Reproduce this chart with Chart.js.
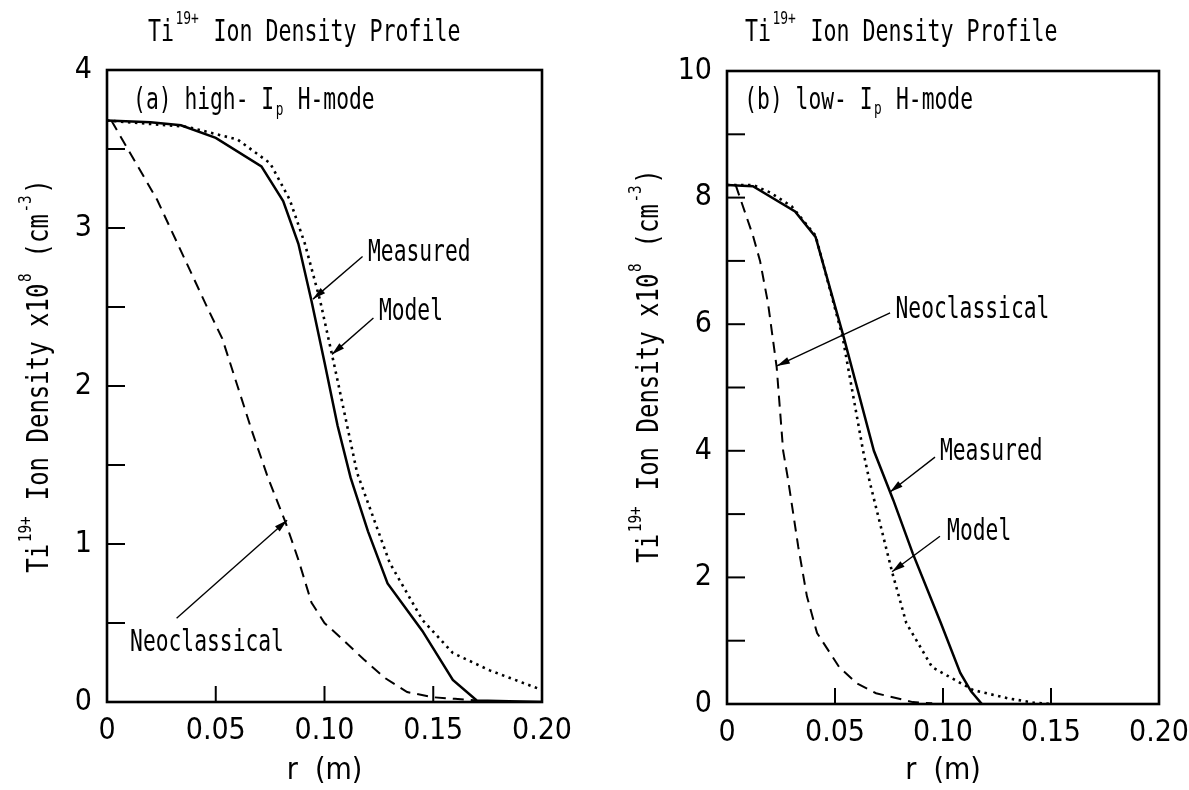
<!DOCTYPE html>
<html>
<head>
<meta charset="utf-8">
<title>Ti19+ Ion Density Profile</title>
<script src="https://cdn.jsdelivr.net/npm/chart.js@4.4.0/dist/chart.umd.min.js"></script>
<style>
    body { margin: 0; background: #fff; }
    #wrap { position: relative; width: 1189px; height: 790px; }
    #chartA { position: absolute; left: 0; top: 0; }
    #chartB { position: absolute; left: 600px; top: 0; }
</style>
</head>
<body>
<div id="wrap">
    <canvas id="chartA" width="600" height="790"></canvas>
    <canvas id="chartB" width="589" height="790"></canvas>
</div>
<script>
// Panel (a): high-Ip H-mode, r in metres, density in 1e8 cm^-3
const rMeasuredA = [0, 0.02, 0.034, 0.05, 0.071, 0.081, 0.088, 0.094, 0.1, 0.106, 0.112, 0.12, 0.129, 0.145, 0.159, 0.17, 0.2];
const nMeasuredA = [3.68, 3.67, 3.65, 3.57, 3.39, 3.17, 2.9, 2.54, 2.15, 1.75, 1.42, 1.08, 0.75, 0.45, 0.14, 0.01, 0.0];
const rModelA = [0, 0.037, 0.06, 0.075, 0.084, 0.091, 0.098, 0.105, 0.115, 0.13, 0.145, 0.159, 0.176, 0.2];
const nModelA = [3.68, 3.64, 3.56, 3.41, 3.18, 2.9, 2.54, 2.1, 1.45, 0.88, 0.52, 0.31, 0.2, 0.076];
const rNeoA = [0.002, 0.023, 0.046, 0.053, 0.06, 0.067, 0.074, 0.082, 0.088, 0.094, 0.1, 0.108, 0.118, 0.128, 0.138, 0.15, 0.16, 0.17];
const nNeoA = [3.68, 3.18, 2.5, 2.3, 2.0, 1.7, 1.42, 1.14, 0.9, 0.63, 0.5, 0.4, 0.27, 0.15, 0.063, 0.03, 0.02, 0.01];

// Panel (b): low-Ip H-mode
const rMeasuredB = [0, 0.012, 0.0315, 0.041, 0.054, 0.068, 0.077, 0.086, 0.099, 0.108, 0.113, 0.118];
const nMeasuredB = [8.2, 8.18, 7.78, 7.38, 5.8, 4.0, 3.22, 2.38, 1.28, 0.49, 0.2, 0.0];
const rModelB = [0, 0.012, 0.02, 0.03, 0.041, 0.0535, 0.063, 0.0662, 0.0764, 0.083, 0.095, 0.114, 0.13, 0.142, 0.15];
const nModelB = [8.2, 8.2, 8.08, 7.86, 7.4, 5.8, 4.0, 3.49, 2.09, 1.28, 0.58, 0.22, 0.09, 0.02, 0.0];
const rNeoB = [0.004, 0.012, 0.0153, 0.019, 0.023, 0.026, 0.0283, 0.033, 0.037, 0.0417, 0.052, 0.06, 0.069, 0.086, 0.095];
const nNeoB = [8.2, 7.4, 7.0, 6.33, 5.32, 4.0, 3.54, 2.48, 1.7, 1.12, 0.58, 0.33, 0.17, 0.03, 0.01];

const xTicks = [0, 0.05, 0.10, 0.15, 0.20];

const FONT = "'Liberation Sans Narrow', 'DejaVu Sans Condensed', 'Liberation Sans', sans-serif";
// lettering-style labels: a mono face squeezed horizontally
const LETTER = "'DejaVu Sans Mono', 'Liberation Mono', monospace";

const titleParts = [['Ti'], ['19+', 'sup'], [' Ion Density Profile']];
const yTitleParts = [['Ti'], ['19+', 'sup'], [' Ion Density x10'], ['8', 'sup'], [' (cm'], ['-3', 'sup'], [')']];

function pts(xs, ys) {
    return xs.map((x, i) => ({ x: x, y: ys[i] }));
}

function textWidth(ctx, parts, size, sx) {
    let w = 0;
    parts.forEach(p => {
        ctx.font = (p[1] ? Math.round(size * 0.6) : size) + 'px ' + LETTER;
        w += ctx.measureText(p[0]).width * sx + (p[1] ? 3 : 0);
    });
    return w;
}

// rich text with superscripts / subscripts, drawn left to right from x
function drawRich(ctx, parts, x, y, size, sx) {
    let px = x;
    parts.forEach(p => {
        let dy = 0, s = size, gap = 0;
        if (p[1] === 'sup') { s = Math.round(size * 0.6); dy = -size * 0.45; gap = 3; }
        if (p[1] === 'sub') { s = Math.round(size * 0.6); dy = size * 0.28; gap = 3; }
        ctx.font = s + 'px ' + LETTER;
        ctx.save();
        ctx.translate(px + gap / 2, y + dy);
        ctx.scale(sx, 1);
        ctx.fillText(p[0], 0, 0);
        ctx.restore();
        px += ctx.measureText(p[0]).width * sx + gap;
    });
}

// inward tick marks and the box frame
const frameTicks = {
    id: 'frameTicks',
    afterDraw(chart) {
        const { ctx, chartArea: a, scales } = chart;
        const x = scales.x, y = scales.y;
        ctx.save();
        ctx.strokeStyle = '#000';
        ctx.lineWidth = 2;
        y.ticks.forEach(t => {
            if (t.value <= y.min || t.value >= y.max) return;
            const py = y.getPixelForValue(t.value);
            ctx.beginPath();
            ctx.moveTo(a.left, py);
            ctx.lineTo(a.left + 18, py);
            ctx.stroke();
        });
        x.ticks.forEach(t => {
            if (t.value <= x.min || t.value >= x.max) return;
            const px = x.getPixelForValue(t.value);
            ctx.beginPath();
            ctx.moveTo(px, a.bottom);
            ctx.lineTo(px, a.bottom - 16);
            ctx.stroke();
        });
        ctx.lineWidth = 2.6;
        ctx.strokeRect(a.left, a.top, a.right - a.left, a.bottom - a.top);
        ctx.restore();
    }
};

function drawArrow(ctx, x0, y0, x1, y1) {
    ctx.beginPath();
    ctx.moveTo(x0, y0);
    ctx.lineTo(x1, y1);
    ctx.stroke();
    const ang = Math.atan2(y1 - y0, x1 - x0);
    const L = 13, W = 3.5;
    ctx.beginPath();
    ctx.moveTo(x1, y1);
    ctx.lineTo(x1 - L * Math.cos(ang) + W * Math.sin(ang), y1 - L * Math.sin(ang) - W * Math.cos(ang));
    ctx.lineTo(x1 - L * Math.cos(ang) - W * Math.sin(ang), y1 - L * Math.sin(ang) + W * Math.cos(ang));
    ctx.closePath();
    ctx.fill();
}

// titles, y-axis title, labels and arrows
const notes = {
    id: 'notes',
    afterDraw(chart, args, opts) {
        const { ctx, scales } = chart;
        ctx.save();
        ctx.fillStyle = '#000';
        ctx.strokeStyle = '#000';
        ctx.lineWidth = 1.4;
        ctx.textBaseline = 'middle';
        ctx.textAlign = 'left';

        // panel title
        drawRich(ctx, titleParts, opts.titleX, 33, 30, 0.72);

        // rotated y-axis title
        ctx.save();
        ctx.translate(opts.yTitleX, opts.yTitleY);
        ctx.rotate(-Math.PI / 2);
        const w = textWidth(ctx, yTitleParts, 30, 0.8);
        drawRich(ctx, yTitleParts, -w / 2, 0, 30, 0.8);
        ctx.restore();

        (opts.items || []).forEach(n => {
            const px = scales.x.getPixelForValue(n.x);
            const py = scales.y.getPixelForValue(n.y);
            drawRich(ctx, n.parts, px, py, 30, 0.71);
            if (n.arrow) {
                const ar = n.arrow;
                drawArrow(ctx,
                    scales.x.getPixelForValue(ar[0]), scales.y.getPixelForValue(ar[1]),
                    scales.x.getPixelForValue(ar[2]), scales.y.getPixelForValue(ar[3]));
            }
        });
        ctx.restore();
    }
};

function makeChart(id, cfg) {
    const ctx = document.getElementById(id).getContext('2d');
    return new Chart(ctx, {
        type: 'line',
        data: {
            datasets: [
                {
                    label: 'Measured',
                    data: pts(cfg.rMeas, cfg.nMeas),
                    borderColor: '#000',
                    borderWidth: 2.5
                },
                {
                    label: 'Model',
                    data: pts(cfg.rModel, cfg.nModel),
                    borderColor: '#000',
                    borderWidth: 2.6,
                    borderDash: [2.5, 4.5]
                },
                {
                    label: 'Neoclassical',
                    data: pts(cfg.rNeo, cfg.nNeo),
                    borderColor: '#000',
                    borderWidth: 2,
                    borderDash: [11, 7]
                }
            ]
        },
        options: {
            responsive: false,
            animation: false,
            devicePixelRatio: 1,
            layout: { padding: { left: 0, right: cfg.padRight, top: cfg.padTop, bottom: 0 } },
            elements: {
                point: { radius: 0 },
                line: { tension: 0, fill: false }
            },
            plugins: {
                legend: { display: false },
                tooltip: { enabled: false },
                title: { display: false },
                notes: cfg.notes
            },
            scales: {
                x: {
                    type: 'linear',
                    min: 0,
                    max: 0.2,
                    afterBuildTicks: scale => {
                        scale.ticks = xTicks.map(v => ({ value: v }));
                    },
                    afterFit: scale => {
                        scale.height = cfg.xHeight;
                        scale.paddingLeft = 0;
                        scale.paddingRight = 0;
                    },
                    grid: { display: false, drawTicks: false },
                    border: { display: false },
                    ticks: {
                        color: '#000',
                        padding: 11,
                        maxRotation: 0,
                        font: { family: FONT, size: 30 },
                        callback: v => v === 0 ? '0' : v.toFixed(2)
                    },
                    title: {
                        display: true,
                        text: 'r  (m)',
                        color: '#000',
                        font: { family: FONT, size: 30 },
                        padding: { top: 0, bottom: 1 }
                    }
                },
                y: {
                    type: 'linear',
                    min: 0,
                    max: cfg.yMax,
                    afterFit: scale => {
                        scale.width = cfg.yWidth;
                        scale.paddingTop = 0;
                        scale.paddingBottom = 0;
                    },
                    grid: { display: false, drawTicks: false },
                    border: { display: false },
                    ticks: {
                        color: '#000',
                        padding: 15,
                        stepSize: cfg.yStep,
                        font: { family: FONT, size: 30 },
                        callback: v => (Math.abs(v % cfg.yLabelEvery) < 1e-6 ? String(v) : '')
                    },
                    title: { display: false }
                }
            }
        },
        plugins: [frameTicks, notes]
    });
}

makeChart('chartA', {
    rMeas: rMeasuredA, nMeas: nMeasuredA,
    rModel: rModelA, nModel: nModelA,
    rNeo: rNeoA, nNeo: nNeoA,
    yMax: 4, yStep: 0.5, yLabelEvery: 1,
    padRight: 58, padTop: 70, yWidth: 107, xHeight: 88,
    notes: {
        titleX: 148, yTitleX: 40, yTitleY: 376,
        items: [
            { parts: [['(a) high- I'], ['p', 'sub'], [' H-mode']], x: 0.012, y: 3.8 },
            { parts: [['Measured']], x: 0.12, y: 2.84, arrow: [0.1175, 2.82, 0.0947, 2.55] },
            { parts: [['Model']], x: 0.125, y: 2.47, arrow: [0.1225, 2.43, 0.1034, 2.2] },
            { parts: [['Neoclassical']], x: 0.0106, y: 0.37, arrow: [0.032, 0.53, 0.0828, 1.15] }
        ]
    }
});

makeChart('chartB', {
    rMeas: rMeasuredB, nMeas: nMeasuredB,
    rModel: rModelB, nModel: nModelB,
    rNeo: rNeoB, nNeo: nNeoB,
    yMax: 10, yStep: 1, yLabelEvery: 2,
    padRight: 30, padTop: 71, yWidth: 127, xHeight: 86,
    notes: {
        titleX: 145, yTitleX: 50, yTitleY: 366,
        items: [
            { parts: [['(b) low- I'], ['p', 'sub'], [' H-mode']], x: 0.008, y: 9.52 },
            { parts: [['Neoclassical']], x: 0.078, y: 6.22, arrow: [0.0755, 6.18, 0.0231, 5.34] },
            { parts: [['Measured']], x: 0.0986, y: 3.98, arrow: [0.0963, 3.9, 0.0755, 3.35] },
            { parts: [['Model']], x: 0.1019, y: 2.72, arrow: [0.0986, 2.65, 0.0764, 2.09] }
        ]
    }
});
</script>
</body>
</html>
